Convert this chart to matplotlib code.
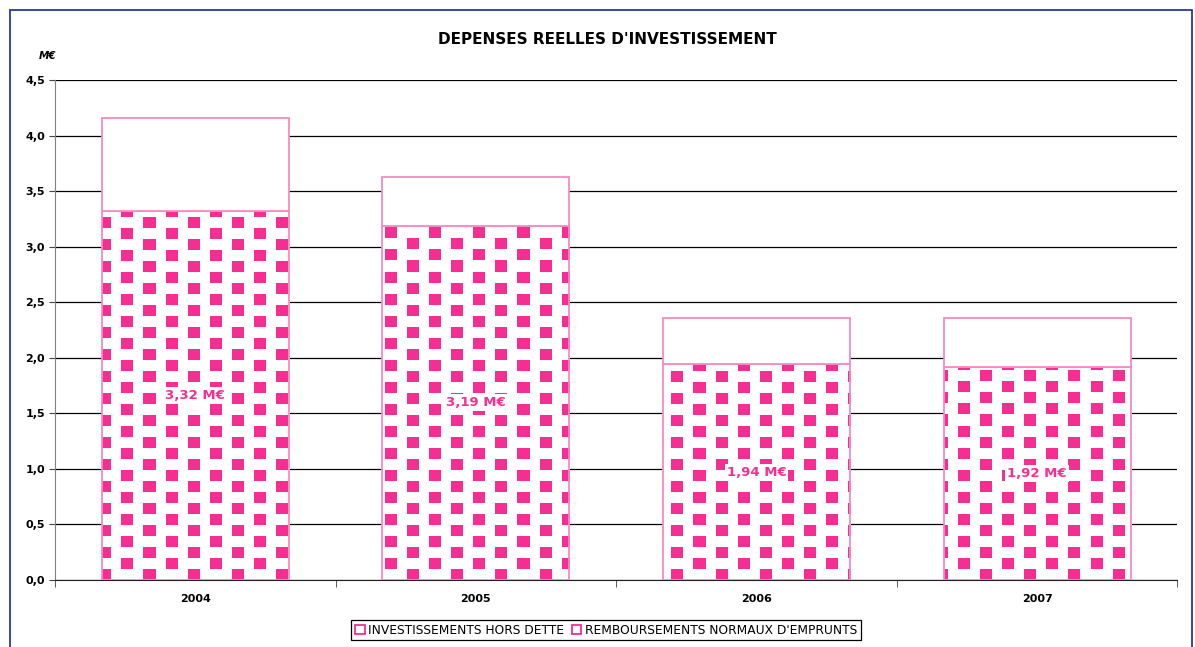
import numpy as np
import matplotlib
import matplotlib.pyplot as plt
from matplotlib.patches import Rectangle, Patch

plt.rcParams['font.family'] = 'DejaVu Sans'

years = ['2004', '2005', '2006', '2007']
invest = [3.32, 3.19, 1.94, 1.92]          # investissements hors dette
rembours = [0.84, 0.44, 0.42, 0.44]        # remboursements normaux d'emprunts
value_labels = ['3,32 M€', '3,19 M€', '1,94 M€', '1,92 M€']
series_names = ['INVESTISSEMENTS HORS DETTE', "REMBOURSEMENTS NORMAUX D'EMPRUNTS"]
yticks = [0, 0.5, 1.0, 1.5, 2.0, 2.5, 3.0, 3.5, 4.0, 4.5]

pink = '#F52F91'
edge_pink = '#F58BC2'

fig = plt.figure(figsize=(11.95, 6.47), dpi=100)
ax_rect = [0.046, 0.1036, 0.9393, 0.7728]
ax = fig.add_axes(ax_rect)

# square dot pattern, one array cell per screen pixel
W = int(round(fig.get_figwidth() * fig.dpi * ax_rect[2]))
H = int(round(fig.get_figheight() * fig.dpi * ax_rect[3]))
yy, xx = np.mgrid[0:H, 0:W]
yb = H - 1 - yy
col_a = (xx % 44 < 12) & (yb % 22 < 11)
col_b = ((xx - 22) % 44 < 12) & (yb % 22 >= 11)
pattern = np.ones((H, W, 4))
pattern[col_a | col_b, :3] = matplotlib.colors.to_rgb(pink)

x = np.arange(len(years))
bars = ax.bar(x, invest, width=0.667, color='none', edgecolor=edge_pink,
              linewidth=1.3, zorder=3)
for b in bars:
    im = ax.imshow(pattern, extent=(-0.5, 3.5, 0, 4.5), aspect='auto',
                   interpolation='nearest', zorder=2)
    im.set_clip_path(b)
ax.bar(x, rembours, bottom=invest, width=0.667, color='white',
       edgecolor=edge_pink, linewidth=1.3, zorder=3)

for i in range(len(years)):
    ax.text(x[i], invest[i] / 2, value_labels[i], ha='center', va='center',
            color=pink, fontsize=9.5, fontweight='bold', zorder=5,
            bbox=dict(facecolor='white', edgecolor='none', pad=1.5))

ax.set_xlim(-0.5, 3.5)
ax.set_ylim(0, 4.5)
ax.set_xticks(x, years, fontsize=8, fontweight='bold')
ax.set_xticks(np.arange(-0.5, 4.0, 1.0), minor=True)
ax.tick_params(axis='x', which='major', length=0, pad=10)
ax.tick_params(axis='x', which='minor', length=5, direction='out', color='#444444')
ax.set_yticks(yticks, [f'{v:.1f}'.replace('.', ',') for v in yticks],
              fontsize=8, fontweight='bold')
ax.tick_params(axis='y', length=4, color='#444444', pad=3)

ax.spines['top'].set_visible(False)
ax.spines['right'].set_visible(False)
ax.spines['left'].set_color('#808080')
ax.spines['bottom'].set_color('#222222')
ax.set_axisbelow(True)
ax.yaxis.grid(True, color='black', linewidth=0.9)

fig.text(607 / 1195, 1 - 40 / 647, "DEPENSES REELLES D'INVESTISSEMENT",
         ha='center', va='center', fontsize=11, fontweight='bold')
fig.text(48 / 1195, 1 - 56 / 647, 'M€', ha='center', va='center',
         fontsize=7.5, fontweight='bold', style='italic')

handles = [Patch(facecolor='white', edgecolor=pink, linewidth=1.3),
           Patch(facecolor='white', edgecolor=pink, linewidth=1.3)]
leg = fig.legend(handles, series_names, loc='center', ncol=2,
                 bbox_to_anchor=(606 / 1195, 17 / 647), fontsize=8.8,
                 frameon=True, fancybox=False, edgecolor='black', framealpha=1,
                 borderpad=0.3, handlelength=0.8, handleheight=0.8,
                 handletextpad=0.3, columnspacing=0.6, borderaxespad=0)
leg.get_frame().set_linewidth(0.9)

fig.add_artist(Rectangle((10 / 1195, -0.05), 1182 / 1195, 1.05 - 10 / 647,
                         transform=fig.transFigure, fill=False,
                         edgecolor='#1428A0', linewidth=1.2))

fig.savefig('out.png', dpi=100)
